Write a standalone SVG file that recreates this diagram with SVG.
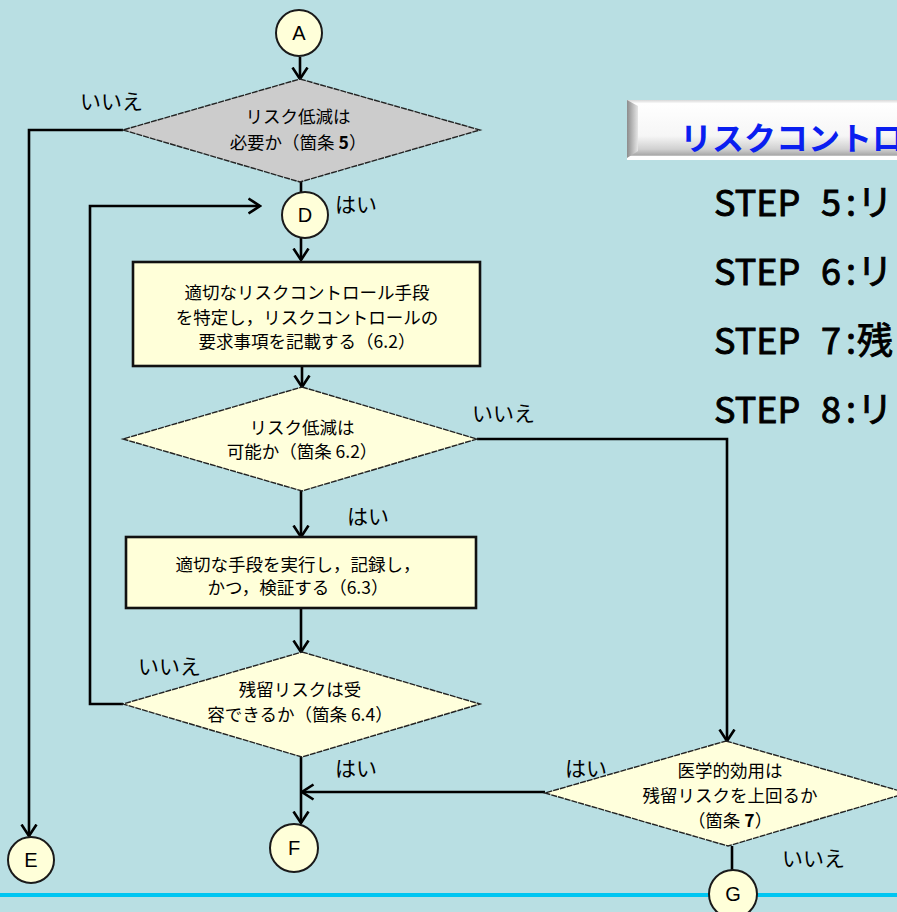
<svg xmlns="http://www.w3.org/2000/svg" width="897" height="912" viewBox="0 0 897 912">
<style>
.bg{fill:#b9dfe3}
.ln{fill:none;stroke:#000;stroke-width:2.6}
.cir{fill:#ffffd9;stroke:#1a1a1a;stroke-width:2}
.dia{fill:#ffffdc;stroke:#222;stroke-width:1.4;stroke-dasharray:6 1}
.box{fill:#ffffd9;stroke:#111;stroke-width:2.6}
.t{font-family:"Noto Sans CJK JP","Liberation Sans",sans-serif;font-size:17.5px;fill:#000;text-anchor:middle}
.lb{font-family:"Noto Sans CJK JP","Liberation Sans",sans-serif;font-size:21px;fill:#000}
.ltr{font-family:"Liberation Sans",Arial,sans-serif;font-size:20px;fill:#000;text-anchor:middle}
.st{font-family:"Noto Sans CJK JP","Liberation Sans",sans-serif;font-size:36px;fill:#000;stroke:#000;stroke-width:0.9}
</style>
<defs>
<marker id="arr" viewBox="0 0 14 18" refX="12.5" refY="9" markerWidth="14" markerHeight="18" orient="auto" markerUnits="userSpaceOnUse">
<path d="M1,1.5 L12.5,9 L1,16.5" fill="none" stroke="#000" stroke-width="2.6"/>
</marker>
<linearGradient id="tg" x1="0" y1="0" x2="0" y2="1">
<stop offset="0" stop-color="#d8d8d8"/>
<stop offset="0.06" stop-color="#ffffff"/>
<stop offset="0.6" stop-color="#f6f6f6"/>
<stop offset="0.82" stop-color="#d0d0d0"/>
<stop offset="0.92" stop-color="#a8a8a8"/>
<stop offset="0.94" stop-color="#ffffff"/>
<stop offset="1" stop-color="#ffffff"/>
</linearGradient>
<linearGradient id="lg" x1="0" y1="0" x2="1" y2="0">
<stop offset="0" stop-color="#8c8c8c"/>
<stop offset="1" stop-color="#e6e6e6"/>
</linearGradient>
</defs>
<rect class="bg" x="0" y="0" width="897" height="912"/>
<rect x="0" y="893" width="897" height="4" fill="#00c6f2"/>

<g id="connectors">
<path class="ln" d="M300,57 V79" marker-end="url(#arr)"/>
<path class="ln" d="M123,130 H29 V836" marker-end="url(#arr)"/>
<path class="ln" d="M301,182 V193"/>
<path class="ln" d="M301,238 V260" marker-end="url(#arr)"/>
<path class="ln" d="M302,366 V387" marker-end="url(#arr)"/>
<path class="ln" d="M477,439 H727 V741" marker-end="url(#arr)"/>
<path class="ln" d="M301,491 V537" marker-end="url(#arr)"/>
<path class="ln" d="M301,608 V652" marker-end="url(#arr)"/>
<path class="ln" d="M123,704 H90 V206 H260" marker-end="url(#arr)"/>
<path class="ln" d="M301,757 V823" marker-end="url(#arr)"/>
<path class="ln" d="M545,792 H302" marker-end="url(#arr)"/>
<path class="ln" d="M732,846 V870"/>
</g>

<g id="title">
<rect x="627" y="100" width="280" height="60" fill="url(#tg)"/>
<polygon points="627,100 638,106 638,151 627,158" fill="url(#lg)"/>
<text x="680" y="150" font-family="'Noto Sans CJK JP','Liberation Sans',sans-serif" font-size="32" font-weight="bold" fill="#0a1ef0">リスクコントロ</text>
</g>

<g id="steps">
<text class="st" y="216"><tspan x="714">STEP</tspan><tspan x="821">5</tspan><tspan x="846">:</tspan><tspan x="857">リ</tspan></text>
<text class="st" y="285"><tspan x="714">STEP</tspan><tspan x="821">6</tspan><tspan x="846">:</tspan><tspan x="857">リ</tspan></text>
<text class="st" y="354"><tspan x="714">STEP</tspan><tspan x="821">7</tspan><tspan x="846">:</tspan><tspan x="857">残</tspan></text>
<text class="st" y="423"><tspan x="714">STEP</tspan><tspan x="821">8</tspan><tspan x="846">:</tspan><tspan x="857">リ</tspan></text>
</g>

<g id="nodeA">
<circle class="cir" cx="299" cy="33" r="23"/>
<text class="ltr" x="299" y="40">A</text>
</g>

<g id="dec1">
<polygon points="300,79 480,130 300,182 123,130" fill="#cccccc" stroke="#222" stroke-width="1.4" stroke-dasharray="6 1"/>
<text class="t" x="298" y="123">リスク低減は</text>
<text class="t" x="298" y="149">必要か（箇条 <tspan font-weight="bold">5</tspan>）</text>
</g>

<g id="nodeD">
<circle class="cir" cx="305" cy="215" r="23"/>
<text class="ltr" x="305" y="222">D</text>
</g>

<g id="box1">
<rect class="box" x="133" y="262" width="347" height="104"/>
<text class="t" x="307" y="299">適切なリスクコントロール手段</text>
<text class="t" x="307" y="324">を特定し，リスクコントロールの</text>
<text class="t" x="307" y="348">要求事項を記載する（6.2）</text>
</g>

<g id="dec2">
<polygon class="dia" points="302,387 477,439 302,491 123,439"/>
<text class="t" x="302" y="434">リスク低減は</text>
<text class="t" x="302" y="458">可能か（箇条 6.2）</text>
</g>

<g id="box2">
<rect class="box" x="126" y="537" width="350" height="71"/>
<text class="t" x="298" y="571">適切な手段を実行し，記録し，</text>
<text class="t" x="298" y="594">かつ，検証する（6.3）</text>
</g>

<g id="dec3">
<polygon class="dia" points="302,652 480,704 302,757 123,704"/>
<text class="t" x="300" y="696">残留リスクは受</text>
<text class="t" x="300" y="721">容できるか（箇条 6.4）</text>
</g>

<g id="dec4">
<polygon class="dia" points="726,741 907,793 728,846 545,793"/>
<text class="t" x="730" y="777">医学的効用は</text>
<text class="t" x="730" y="802">残留リスクを上回るか</text>
<text class="t" x="730" y="827">（箇条 <tspan font-weight="bold">7</tspan>）</text>
</g>

<g id="nodeE">
<circle class="cir" cx="31" cy="860" r="23"/>
<text class="ltr" x="31" y="867">E</text>
</g>
<g id="nodeF">
<circle class="cir" cx="294" cy="848" r="24"/>
<text class="ltr" x="294" y="855">F</text>
</g>
<g id="nodeG">
<circle class="cir" cx="733" cy="894" r="24"/>
<text class="ltr" x="733" y="901">G</text>
</g>

<g id="labels">
<text class="lb" x="80" y="109">いいえ</text>
<text class="lb" x="335" y="212">はい</text>
<text class="lb" x="472" y="421">いいえ</text>
<text class="lb" x="347" y="524">はい</text>
<text class="lb" x="138" y="674">いいえ</text>
<text class="lb" x="335" y="776">はい</text>
<text class="lb" x="565" y="776">はい</text>
<text class="lb" x="782" y="866">いいえ</text>
</g>
</svg>
